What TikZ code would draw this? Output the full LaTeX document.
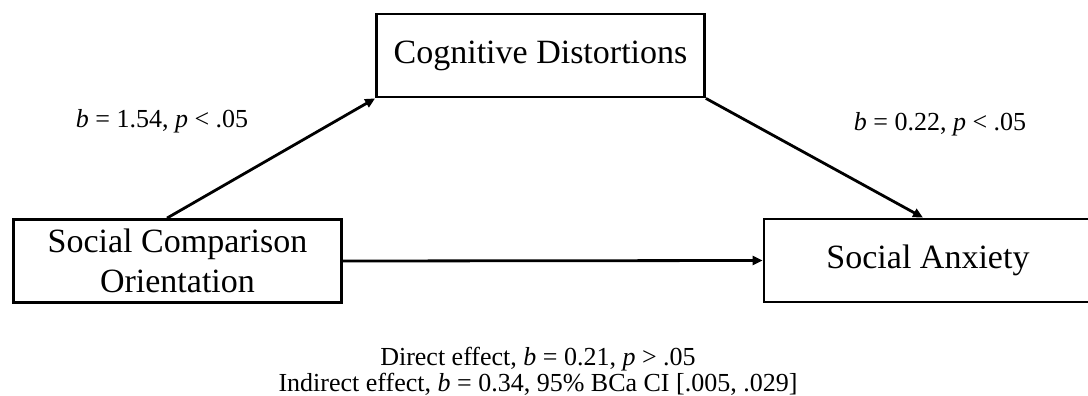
\documentclass[tikz,border=0pt]{standalone}
\usepackage{fontspec}
\setmainfont{Liberation Serif}
\usetikzlibrary{arrows.meta}
\begin{document}
\begin{tikzpicture}[x=1pt,y=-1pt,every node/.style={font=\fontsize{26}{26}\selectfont,inner sep=0pt},
  var/.style={draw,line width=2.8pt,minimum width=328pt,minimum height=83pt,align=center,font=\fontsize{34}{40}\selectfont},
  effect/.style={line width=2.8pt,-{Triangle[length=10pt,width=9pt]}}]
\useasboundingbox (0,0) rectangle (1088,396);
\node[var] (sco) at (177.5,261) {Social Comparison\\Orientation};
\node[var] (cog) at (540.5,55.5) {Cognitive Distortions};
\node[var] (anx) at (928,260.5) {Social Anxiety};
\draw[effect] ([xshift=-10.5pt]sco.north) -- (cog.south west);
\draw[effect] (cog.south east) -- ([xshift=-5pt]anx.north);
\draw[effect] (sco.east) -- (anx.west);
\node (a) at (162,121) {\textit{b} = 1.54, \textit{p} < .05};
\node (b) at (940,124) {\textit{b} = 0.22, \textit{p} < .05};
\node[align=center] (c) at (538,371) {Direct effect, \textit{b} = 0.21, \textit{p} > .05\\Indirect effect, \textit{b} = 0.34, 95\% BCa CI [.005, .029]};
\end{tikzpicture}
\end{document}
